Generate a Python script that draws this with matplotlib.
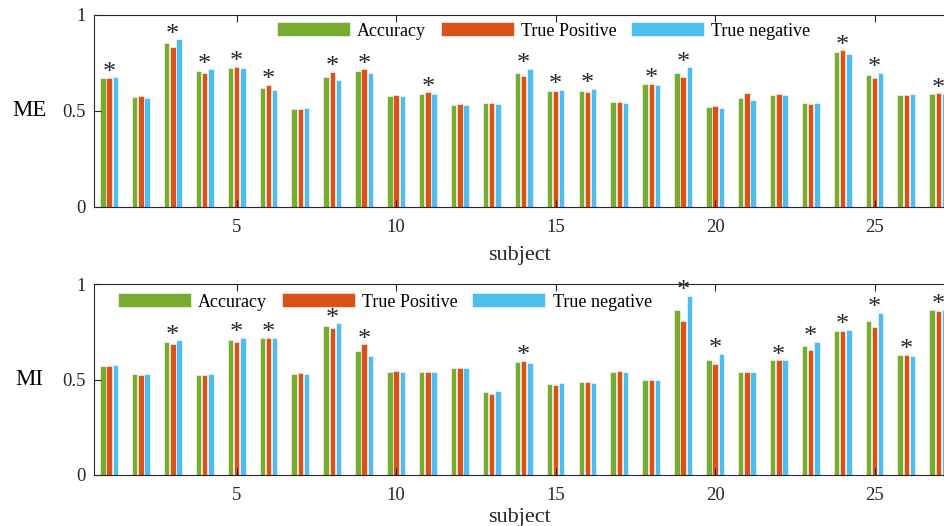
import numpy as np
import matplotlib
matplotlib.use("Agg")
import matplotlib.pyplot as plt

plt.rcParams['font.family'] = ['Liberation Serif', 'DejaVu Serif']

subjects = np.arange(1, 28)

# ME panel
me_acc = [0.673, 0.572, 0.852, 0.708, 0.725, 0.619, 0.511, 0.678, 0.708,
          0.579, 0.591, 0.532, 0.539, 0.699, 0.605, 0.605, 0.546, 0.638,
          0.699, 0.522, 0.570, 0.584, 0.539, 0.805, 0.685, 0.584, 0.591]
me_tp = [0.671, 0.579, 0.835, 0.696, 0.730, 0.635, 0.511, 0.703, 0.718,
         0.583, 0.597, 0.534, 0.541, 0.682, 0.602, 0.598, 0.546, 0.642,
         0.677, 0.525, 0.593, 0.586, 0.537, 0.817, 0.673, 0.581, 0.593]
me_tn = [0.675, 0.567, 0.873, 0.718, 0.722, 0.607, 0.513, 0.663, 0.696,
         0.576, 0.588, 0.529, 0.536, 0.720, 0.609, 0.614, 0.544, 0.635,
         0.727, 0.517, 0.558, 0.583, 0.539, 0.795, 0.699, 0.591, 0.591]
me_sig = [1, 0, 1, 1, 1, 1, 0, 1, 1, 0, 1, 0, 0, 1, 1, 1, 0, 1,
          1, 0, 0, 0, 0, 1, 1, 0, 1]

# MI panel
mi_acc = [0.573, 0.528, 0.694, 0.526, 0.708, 0.720, 0.531, 0.781, 0.647,
          0.540, 0.540, 0.559, 0.432, 0.593, 0.479, 0.486, 0.540, 0.500,
          0.862, 0.601, 0.540, 0.601, 0.673, 0.753, 0.808, 0.628, 0.862]
mi_tp = [0.573, 0.526, 0.684, 0.526, 0.698, 0.720, 0.533, 0.771, 0.684,
         0.544, 0.540, 0.559, 0.425, 0.598, 0.469, 0.486, 0.544, 0.500,
         0.809, 0.579, 0.540, 0.601, 0.656, 0.752, 0.776, 0.629, 0.857]
mi_tn = [0.577, 0.528, 0.705, 0.528, 0.719, 0.720, 0.530, 0.794, 0.622,
         0.537, 0.538, 0.558, 0.439, 0.589, 0.484, 0.484, 0.537, 0.500,
         0.937, 0.636, 0.540, 0.601, 0.698, 0.759, 0.850, 0.624, 0.865]
mi_sig = [0, 0, 1, 0, 1, 1, 0, 1, 1, 0, 0, 0, 0, 1, 0, 0, 0, 0,
          1, 1, 0, 1, 1, 1, 1, 1, 1]

series_labels = ['Accuracy', 'True Positive', 'True negative']
colors = ['#77AC30', '#D95319', '#4DBEEE']
xticks = [5, 10, 15, 20, 25]

fig = plt.figure(figsize=(9.45, 5.26), dpi=100)
ax_top = fig.add_axes([0.0995, 0.6065, 0.9005, 0.365])
ax_bot = fig.add_axes([0.0995, 0.097, 0.9005, 0.363])


def draw_panel(ax, acc, tp, tn, sig, name, xlab_y, leg_x, leg_y):
    offs = [-0.195, 0.0, 0.195]
    for vals, off, c, lab in zip([acc, tp, tn], offs, colors, series_labels):
        ax.bar(subjects + off, vals, width=0.17, color=c, edgecolor='white',
               linewidth=0.4, label=lab)
    # significance stars above each marked group
    for s, a, b, c, flag in zip(subjects, acc, tp, tn, sig):
        if flag:
            ax.annotate('*', xy=(s, max(a, b, c)), xytext=(0, -1.0),
                        textcoords='offset points', ha='center',
                        va='baseline', fontsize=19, color='#262626')
    ax.set_xlim(0.53, 27.21)
    ax.set_ylim(0, 1)
    ax.set_xticks(xticks)
    ax.set_yticks([0, 0.5, 1])
    ax.set_yticklabels(['0', '0.5', '1'])
    ax.tick_params(direction='in', top=True, right=False, length=5,
                   labelsize=13.5, colors='#262626')
    ax.tick_params(axis='x', pad=9)
    ax.tick_params(axis='y', pad=6)
    for sp in ax.spines.values():
        sp.set_color('#262626')
        sp.set_linewidth(0.8)
    ax.set_xlabel('subject', fontsize=16, color='#262626')
    ax.xaxis.set_label_coords(0.5, xlab_y)
    ax.set_ylabel(name, fontsize=16.5, rotation=0, color='#000000',
                  ha='center', va='center')
    ax.yaxis.set_label_coords(-0.0764, 0.5)
    ax.legend(loc='center left', bbox_to_anchor=(leg_x, leg_y), ncol=3,
              frameon=False, fontsize=13, handlelength=4.05,
              handleheight=0.8, handletextpad=0.4, columnspacing=0.8,
              borderpad=0, borderaxespad=0)


draw_panel(ax_top, me_acc, me_tp, me_tn, me_sig, 'ME', -0.205, 0.2147, 0.917)
draw_panel(ax_bot, mi_acc, mi_tp, mi_tn, mi_sig, 'MI', -0.172, 0.028, 0.906)

fig.savefig('out.png', dpi=100)
